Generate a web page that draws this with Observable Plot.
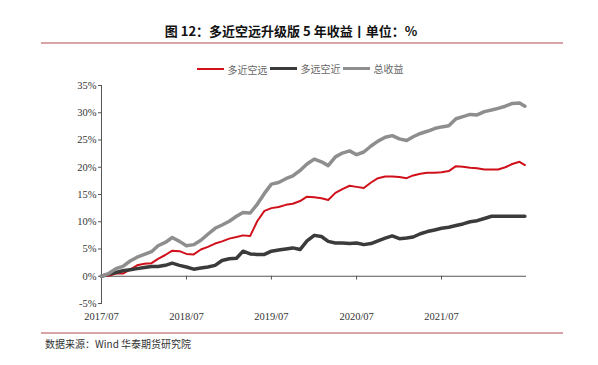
<!DOCTYPE html>
<html>
<head>
<meta charset="utf-8">
<script src="https://cdn.jsdelivr.net/npm/d3@7"></script>
<script src="https://cdn.jsdelivr.net/npm/@observablehq/plot@0.6"></script>
<style>
  body { margin: 0; background: #fff; }
  #wrap { position: relative; width: 598px; height: 365px; overflow: hidden; background: #fff; }
  #title { position: absolute; left: 0; width: 582px; top: 21px; text-align: center;
    font-family: "Noto Sans CJK SC", sans-serif; font-weight: bold; font-size: 13px; color: #111; }
  .hr { position: absolute; left: 41px; width: 522px; height: 2px; background: #d9a3aa; }
  #legend { position: absolute; left: 0; width: 600px; top: 58px; text-align: center;
    font-family: "Noto Sans CJK SC", sans-serif; font-size: 10px; color: #666; white-space: nowrap; }
  #legend span.item { display: inline-flex; align-items: center; margin: 0 1px; }
  #legend span.sw { display: inline-block; width: 27px; margin-right: 4px; }
  #chart { position: absolute; left: 0; top: 75px; }
  #caption { position: absolute; left: 45px; top: 336px; font-family: "Noto Sans CJK SC", sans-serif;
    font-size: 10px; color: #333; }
</style>
</head>
<body>
<div id="wrap">
  <div id="title"></div>
  <div class="hr" style="top:42px"></div>
  <div id="legend"></div>
  <div id="chart"></div>
  <div class="hr" style="top:332px"></div>
  <div id="caption"></div>
</div>
<script>
const titleText = "图 12：多近空远升级版 5 年收益丨单位：%";
const captionText = "数据来源：Wind  华泰期货研究院";
const seriesNames = ["多近空远", "多远空近", "总收益"];
const seriesColors = ["#d0111b", "#3b3b3b", "#8e8e8e"];
const seriesWidths = [2, 3.5, 3.5];

// monthly observations from 2017-07 to 2022-06, plus last day
const startMonth = new Date(Date.UTC(2017, 6, 1));
const lastDate = new Date(Date.UTC(2022, 5, 24));

// 多近空远 (red)
const nearLongFarShort = [0, 0.1, 0.5, 0.5, 1.2, 2.0, 2.3, 2.4, 3.2, 3.9, 4.7, 4.6, 4.1, 4.0, 4.9, 5.4, 6.0, 6.4, 6.9, 7.2,
  7.5, 7.4, 10.1, 12.0, 12.5, 12.7, 13.1, 13.3, 13.8, 14.6, 14.5, 14.3, 14.0, 15.3, 16.0, 16.6, 16.4, 16.2, 17.2, 18.0,
  18.3, 18.3, 18.2, 18.0, 18.5, 18.8, 19.0, 19.0, 19.1, 19.3, 20.2, 20.1, 19.9, 19.8, 19.6, 19.6, 19.6, 20.0, 20.6, 21.0, 20.4];
// 多远空近 (dark)
const farLongNearShort = [0, 0.4, 0.7, 1.0, 1.2, 1.4, 1.6, 1.8, 1.8, 2.0, 2.4, 2.0, 1.7, 1.3, 1.5, 1.7, 2.0, 2.9, 3.2, 3.3,
  4.6, 4.1, 4.0, 4.0, 4.6, 4.8, 5.0, 5.2, 4.9, 6.5, 7.5, 7.3, 6.4, 6.1, 6.1, 6.0, 6.1, 5.8, 6.0, 6.5,
  7.0, 7.4, 6.9, 7.0, 7.2, 7.8, 8.2, 8.5, 8.8, 9.0, 9.3, 9.6, 10.0, 10.2, 10.6, 11.0, 11.0, 11.0, 11.0, 11.0, 11.0];
// 总收益 (gray)
const totalReturn = [0, 0.5, 1.4, 1.8, 2.8, 3.5, 4.0, 4.5, 5.6, 6.2, 7.1, 6.4, 5.6, 5.8, 6.6, 7.7, 8.8, 9.4, 10.1, 11.0,
  11.7, 11.6, 13.2, 15.2, 16.9, 17.2, 17.9, 18.4, 19.4, 20.6, 21.5, 21.0, 20.3, 21.9, 22.6, 23.0, 22.3, 22.8, 23.9, 24.8,
  25.5, 25.8, 25.2, 24.9, 25.6, 26.2, 26.6, 27.1, 27.4, 27.6, 28.9, 29.3, 29.7, 29.6, 30.2, 30.5, 30.8, 31.2, 31.7, 31.8, 31.2];

const xTickLabels = ["2017/07", "2018/07", "2019/07", "2020/07", "2021/07"];
const yTicks = [-5, 0, 5, 10, 15, 20, 25, 30, 35];

const dates = d3.utcMonth.range(startMonth, new Date(Date.UTC(2022, 6, 1))).concat([lastDate]);
const parseTick = s => { const [y, m] = s.split("/").map(Number); return new Date(Date.UTC(y, m - 1, 1)); };
const xTicks = xTickLabels.map(parseTick);
const fmt = d => `${d.getUTCFullYear()}/${String(d.getUTCMonth() + 1).padStart(2, "0")}`;

const allSeries = [nearLongFarShort, farLongNearShort, totalReturn];
const rows = [];
allSeries.forEach((vals, i) => vals.forEach((v, j) => rows.push({ date: dates[j], value: v, series: seriesNames[i] })));

document.getElementById("title").textContent = titleText;
document.getElementById("caption").textContent = captionText;
const legend = document.getElementById("legend");
seriesNames.forEach((n, i) => {
  const it = document.createElement("span"); it.className = "item";
  const sw = document.createElement("span"); sw.className = "sw";
  sw.style.height = (i === 0 ? 2 : 3) + "px"; sw.style.background = seriesColors[i];
  it.appendChild(sw); it.appendChild(document.createTextNode(n));
  legend.appendChild(it);
});

const serif = "'Liberation Serif', 'Times New Roman', serif";
const plot = Plot.plot({
  width: 598, height: 250,
  marginLeft: 101, marginRight: 72, marginTop: 10, marginBottom: 22,
  style: { fontFamily: serif, fontSize: "10.5px", color: "#333", background: "transparent" },
  x: { type: "utc", domain: [startMonth, new Date(Date.UTC(2022, 6, 1))] },
  y: { domain: [-5, 35] },
  color: { domain: seriesNames, range: seriesColors },
  marks: [
    Plot.axisY({ ticks: yTicks, tickFormat: d => d + "%", tickSize: 3, tickPadding: 2, label: null, stroke: "#555" }),
    Plot.axisX({ ticks: xTicks, tickFormat: fmt, tickSize: 0, tickPadding: 9, label: null }),
    Plot.frame({ anchor: "left", stroke: "#555" }),
    Plot.ruleY([0], { stroke: "#555" }),
    Plot.ruleX(xTicks, { x: d => d, y1: 0, y2: -0.7, stroke: "#555" }),
    ...seriesNames.map((n, i) => Plot.line(rows.filter(r => r.series === n), {
      x: "date", y: "value", stroke: seriesColors[i], strokeWidth: seriesWidths[i], strokeLinejoin: "round"
    }))
  ]
});
document.getElementById("chart").appendChild(plot);
</script>
</body>
</html>
